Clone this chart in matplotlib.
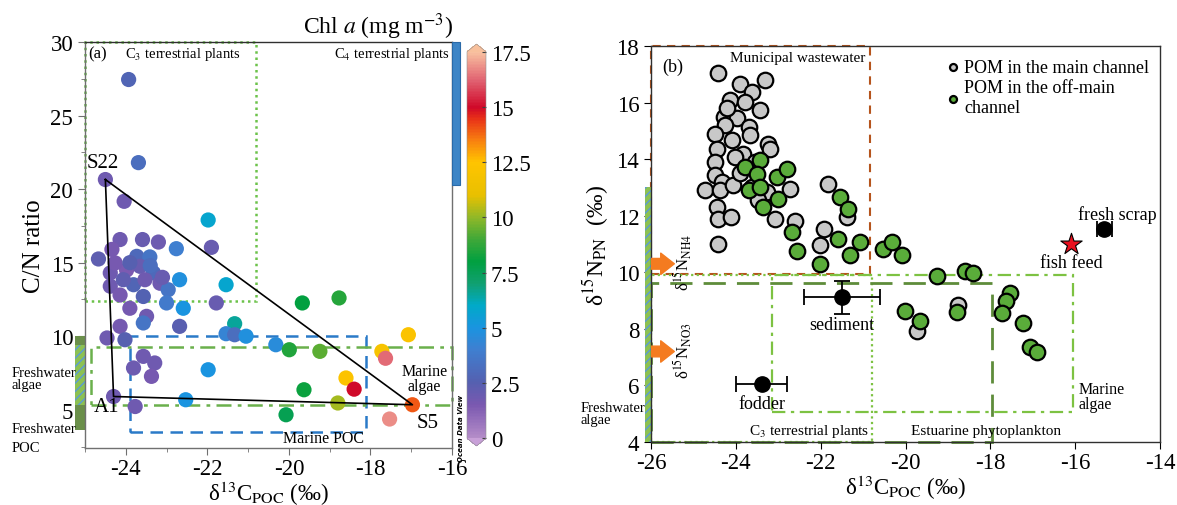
import matplotlib
matplotlib.use('Agg')
import matplotlib.pyplot as plt
from matplotlib.colors import LinearSegmentedColormap
from matplotlib.patches import Rectangle, FancyArrowPatch
from matplotlib.ticker import MultipleLocator

plt.rcParams['font.family'] = ['Liberation Serif', 'DejaVu Serif']
plt.rcParams['mathtext.fontset'] = 'stix'

# ---------------- Panel (a) data ----------------
a_d13c = [-23.93, -23.69, -24.50, -24.04, -21.98, -24.14, -23.59, -23.20, -22.76, -21.90,
          -24.67, -24.34, -23.73, -23.41, -24.38, -23.98, -23.32, -22.68, -21.54, -24.38,
          -23.81, -23.16, -22.96, -24.14, -23.57, -23.00, -22.59, -21.78, -23.90, -23.49,
          -23.57, -24.14, -22.68, -24.46, -24.02, -21.33, -21.54, -21.33, -21.05, -23.57,
          -23.81, -23.29, -23.37, -21.98, -24.30, -23.77, -22.53, -24.26, -23.65, -24.06,
          -23.53, -23.90, -23.40, -23.10, -20.32, -19.67, -18.77, -19.99, -19.24, -19.63,
          -18.60, -18.40, -18.80, -20.07, -17.07, -17.72, -17.63, -16.97, -17.53]
a_cn = [27.45, 21.80, 20.65, 19.17, 17.90, 16.57, 16.57, 16.40, 15.95, 16.04,
        15.25, 15.90, 15.43, 15.39, 14.30, 14.50, 14.30, 13.84, 13.50, 13.40,
        13.50, 13.60, 13.16, 12.80, 12.70, 12.26, 11.90, 12.26, 11.90, 11.35,
        10.90, 10.67, 10.67, 9.88, 9.76, 10.85, 10.17, 10.10, 10.00, 8.63,
        7.84, 8.18, 7.27, 7.72, 5.90, 5.22, 5.68, 14.98, 14.75, 13.84,
        13.84, 15.00, 14.80, 14.00, 9.42, 12.26, 12.60, 9.08, 8.97, 6.36,
        7.16, 6.40, 5.46, 4.66, 10.10, 8.97, 8.50, 5.34, 4.37]
a_chl = [2.8, 3.2, 1.8, 1.8, 5.8, 1.8, 2.0, 1.9, 4.0, 2.0,
         2.3, 1.6, 3.0, 3.5, 1.8, 1.5, 3.0, 4.8, 5.8, 1.8,
         2.8, 1.8, 3.5, 1.6, 2.6, 3.8, 5.0, 2.0, 1.7, 1.8,
         3.5, 1.7, 2.4, 1.8, 2.5, 6.5, 4.3, 3.2, 4.8, 1.8,
         1.9, 1.8, 1.6, 5.0, 1.8, 1.8, 5.0, 1.6, 2.0, 2.2,
         1.8, 2.5, 3.2, 2.0, 4.6, 8.0, 8.6, 8.5, 9.3, 8.2,
         12.3, 15.0, 10.2, 7.6, 12.2, 12.0, 16.3, 14.0, 16.8]
tri_names = ['S22', 'A1', 'S5']
tri_d13c = [-24.50, -24.30, -16.97]
tri_cn = [20.65, 5.90, 5.34]
chl_ticks = [0, 2.5, 5, 7.5, 10, 12.5, 15, 17.5]
chl_ticklabels = ['0', '2.5', '5', '7.5', '10', '12.5', '15', '17.5']

# source ranges in panel (a): (x0, x1, y0, y1)
a_c3_box = (-25.0, -20.8, 12.4, 30.0)
a_marine_poc_box = (-23.9, -18.1, 3.5, 10.0)
a_marine_algae_box = (-24.85, -16.0, 5.35, 9.3)
a_c4_bar = (-16.0, -15.8, 20.3, 30.0)
a_fw_bar = (-25.25, -25.0, 3.6, 10.0)
a_fw_algae_inner = (-25.25, -25.0, 5.3, 9.4)

# ---------------- Panel (b) data ----------------
main_d13c = [-24.41, -23.90, -23.31, -23.62, -24.14, -23.78, -23.43, -24.29, -23.98, -24.25,
             -23.70, -24.49, -24.10, -23.67, -23.23, -23.19, -24.45, -23.82, -24.49, -24.02,
             -23.55, -24.49, -24.33, -24.73, -24.37, -24.06, -23.62, -23.27, -22.72, -24.45,
             -24.41, -24.11, -23.08, -22.60, -24.41, -21.82, -21.93, -22.01, -21.38, -23.47,
             -19.72, -18.77, -23.90, -24.20]
main_d15n = [17.03, 16.67, 16.81, 16.38, 16.08, 16.02, 15.73, 15.49, 15.47, 15.20,
             15.14, 14.90, 14.67, 14.84, 14.55, 14.37, 14.37, 14.19, 13.90, 14.08,
             13.90, 13.43, 13.19, 12.90, 12.90, 13.07, 13.02, 12.84, 12.96, 12.30,
             11.90, 11.95, 11.90, 11.83, 11.00, 13.13, 11.54, 10.95, 11.95, 12.54,
             7.94, 8.86, 13.50, 15.80]
off_d13c = [-23.78, -23.43, -23.51, -23.70, -23.43, -23.35, -23.00, -23.04, -22.80, -22.68,
            -22.56, -22.01, -21.54, -21.35, -21.58, -21.31, -21.07, -20.54, -20.32, -20.09,
            -19.25, -18.59, -18.40, -17.53, -17.63, -17.73, -17.22, -17.06, -16.90, -20.01,
            -19.66, -18.79]
off_d15n = [13.72, 13.96, 13.49, 12.90, 13.02, 12.30, 12.60, 13.37, 13.66, 11.42,
            10.77, 10.30, 12.66, 12.25, 11.19, 10.60, 11.07, 10.83, 11.07, 10.60,
            9.87, 10.04, 9.98, 9.26, 8.97, 8.56, 8.20, 7.35, 7.17, 8.63,
            8.27, 8.61]
end_names = ['sediment', 'fodder', 'fresh scrap']
end_d13c = [-21.49, -23.39, -15.31]
end_d15n = [9.12, 6.05, 11.54]
end_xerr = [0.90, 0.60, 0.18]
end_yerr = [0.58, 0.0, 0.0]
fishfeed_d13c = [-16.10]
fishfeed_d15n = [11.01]
nh4_arrow_y = 10.3
no3_arrow_y = 7.2

b_municipal_box = (-26.0, -20.83, 9.95, 18.0)
b_c3_box = (-26.0, -20.8, 4.0, 9.9)
b_marine_algae_box = (-23.15, -16.05, 5.05, 9.9)
b_estuarine_box = (-26.0, -17.97, 4.0, 9.62)
b_fw_bar = (-26.14, -26.0, 4.0, 13.0)

# ---------------- colormap ----------------
cm_vals = [0, 1.5, 2.5, 4.0, 5.0, 6.0, 7.0, 8.0, 9.0, 10.0, 11.0, 12.5, 13.5, 14.5, 15.0, 16.2, 17.5]
cm_cols = ['#b48cc8', '#7a58b0', '#5560b0', '#3f7fd0', '#1a94e0', '#00aac8', '#10a070', '#00a040',
           '#40a838', '#90b828', '#e8c000', '#ffc400', '#f88010', '#e83018', '#d00828', '#e06070',
           '#f8c0a0']
cmap = LinearSegmentedColormap.from_list('odv', [(v / 17.5, c) for v, c in zip(cm_vals, cm_cols)])
cmap.set_under('#c8a0d8')
cmap.set_over('#f8c09c')

W, H = 1177, 506
fig = plt.figure(figsize=(W / 100, H / 100), dpi=100)

def fr(x0, y0, x1, y1):
    return [x0 / W, 1 - y1 / H, (x1 - x0) / W, (y1 - y0) / H]

TICK_FS = 16.5

# ================= Panel (a) =================
ax = fig.add_axes(fr(85, 43, 452, 449))
ax.set_xlim(-25, -16)
ax.set_ylim(2.4, 30)
for s in ax.spines.values():
    s.set_color('#707070')
    s.set_linewidth(1.0)
ax.spines['top'].set_color('#303030')
ax.xaxis.set_minor_locator(MultipleLocator(1))
ax.yaxis.set_minor_locator(MultipleLocator(2.5))
ax.set_xticks([-24, -22, -20, -18, -16])
ax.set_xticklabels(['-24', '-22', '-20', '-18', '-16'])
ax.set_yticks([5, 10, 15, 20, 25, 30])
ax.tick_params(which='both', direction='out', colors='#707070', labelcolor='black', labelsize=TICK_FS)
ax.tick_params(which='major', length=5)
ax.tick_params(which='minor', length=3)
ax.tick_params(axis='x', pad=2)
ax.set_xlabel(r'δ$^{13}$C$_{\mathrm{POC}}$ (‰)', fontsize=16.5, labelpad=0)
ax.set_ylabel('C/N ratio', fontsize=18, labelpad=4)

def box(axx, b, color, ls, lw, zorder=1):
    x0, x1, y0, y1 = b
    r = Rectangle((x0, y0), x1 - x0, y1 - y0, fill=False, edgecolor=color, linestyle=ls,
                  linewidth=lw, zorder=zorder, clip_on=False)
    axx.add_patch(r)

box(ax, a_c3_box, '#6cc24a', (0, (1, 1.5)), 1.8)
box(ax, a_marine_poc_box, '#2a7ac8', (0, (5, 3)), 1.8)
box(ax, a_marine_algae_box, '#6ab04c', (0, (6, 2.5, 1.5, 2.5)), 1.8)

x0, x1, y0, y1 = a_c4_bar
ax.add_patch(Rectangle((x0, y0), x1 - x0, y1 - y0, facecolor='#3d85c6', edgecolor='#2a6aa8',
                       lw=0.8, clip_on=False, zorder=5))
x0, x1, y0, y1 = a_fw_bar
ax.add_patch(Rectangle((x0, y0), x1 - x0, y1 - y0, facecolor='#6a8f4a', edgecolor='none',
                       clip_on=False, zorder=2))
x0, x1, y0, y1 = a_fw_algae_inner
ax.add_patch(Rectangle((x0, y0), x1 - x0, y1 - y0, facecolor='#8cc152', edgecolor='#5b9bd5',
                       hatch='////', lw=0, clip_on=False, zorder=2))

sc = ax.scatter(a_d13c, a_cn, c=a_chl, cmap=cmap, vmin=0, vmax=17.5, s=120,
                edgecolors='none', zorder=3)
# mixing triangle
ax.plot(tri_d13c + [tri_d13c[0]], tri_cn + [tri_cn[0]], color='black', lw=1.2, zorder=4)

ax.text(-24.92, 29.2, '(a)', fontsize=12, va='center', ha='left')
ax.text(-24.02, 29.2, r'C$_3$ terrestrial plants', fontsize=10.5, va='center', ha='left')
ax.text(-16.05, 29.2, r'C$_4$ terrestrial plants', fontsize=10.5, va='center', ha='right', zorder=6)
ax.text(-24.97, 21.84, tri_names[0], fontsize=15, va='center', ha='left')
ax.text(-24.78, 5.2, tri_names[1], fontsize=15, va='center', ha='left')
ax.text(-16.86, 4.1, tri_names[2], fontsize=15, va='center', ha='left')
ax.text(-16.67, 7.1, 'Marine\nalgae', fontsize=11.5, va='center', ha='center', linespacing=0.9)
ax.text(-19.14, 3.1, 'Marine POC', fontsize=11.5, va='center', ha='center')
ax.text(-26.8, 7.1, 'Freshwater\nalgae', fontsize=10.5, va='center', ha='left', linespacing=0.9,
        clip_on=False, zorder=7)
ax.text(-26.8, 3.1, 'Freshwater\n\nPOC', fontsize=10.5, va='center', ha='left', linespacing=0.65,
        clip_on=False, zorder=7)

# colorbar
cax = fig.add_axes(fr(467, 45, 486, 447))
cb = fig.colorbar(sc, cax=cax, extend='both', extendfrac=0.02, ticks=chl_ticks)
cb.ax.set_yticklabels(chl_ticklabels)
cb.ax.tick_params(labelsize=TICK_FS, length=3, direction='in', color='#404040', width=0.8)
cb.outline.set_linewidth(0.4)
cb.outline.set_edgecolor('#909090')
fig.text(378 / W, 1 - 27 / H, r'Chl $a$ (mg m$^{-3}$)', fontsize=17, ha='center', va='center')
fig.text(461 / W, 1 - 428 / H, 'Ocean Data View', fontsize=5, rotation=90, ha='center', va='center',
         family='DejaVu Sans', fontweight='bold', style='italic')

# ================= Panel (b) =================
bx = fig.add_axes(fr(651, 47, 1160, 443))
bx.set_xlim(-26, -14)
bx.set_ylim(4, 18)
bx.set_xticks([-26, -24, -22, -20, -18, -16, -14])
bx.set_xticklabels(['-26', '-24', '-22', '-20', '-18', '-16', '-14'])
bx.set_yticks([4, 6, 8, 10, 12, 14, 16, 18])
bx.tick_params(direction='out', length=5, labelsize=TICK_FS)
bx.tick_params(axis='x', pad=2)
for s in bx.spines.values():
    s.set_linewidth(1.0)
    s.set_color('#303030')
bx.set_xlabel(r'δ$^{13}$C$_{\mathrm{POC}}$ (‰)', fontsize=16.5, labelpad=0)
bx.set_ylabel(r'δ$^{15}$N$_{\mathrm{PN}}$  (‰)', fontsize=17, labelpad=4)

box(bx, b_municipal_box, '#b5541c', (0, (4, 3)), 1.5)
box(bx, b_c3_box, '#7dc242', (0, (1, 1.5)), 1.6)
box(bx, b_marine_algae_box, '#7dc242', (0, (6, 2.5, 1.5, 2.5)), 1.6)
box(bx, b_estuarine_box, '#5e8c3a', (0, (8, 4)), 2.0)
x0, x1, y0, y1 = b_fw_bar
bx.add_patch(Rectangle((x0, y0), x1 - x0, y1 - y0, facecolor='#8cc152', edgecolor='#5b9bd5',
                       hatch='////', lw=0, clip_on=False, zorder=2))

for ya in (nh4_arrow_y, no3_arrow_y):
    arr = FancyArrowPatch((-26.0, ya), (-25.45, ya), arrowstyle='simple,head_length=0.7,head_width=1.1,tail_width=0.55',
                          mutation_scale=14, color='#f47b20', shrinkA=0, shrinkB=0, zorder=6)
    bx.add_patch(arr)
bx.text(-25.25, 10.4, r'δ$^{15}$N$_{\mathrm{NH4}}$', rotation=90, fontsize=12, ha='center', va='center')
bx.text(-25.25, 7.25, r'δ$^{15}$N$_{\mathrm{NO3}}$', rotation=90, fontsize=12, ha='center', va='center')

bx.scatter(main_d13c, main_d15n, s=125, facecolor='#c8c8c8', edgecolor='black', linewidth=1.6,
           zorder=3, label='POM in the main channel')
bx.scatter(off_d13c, off_d15n, s=125, facecolor='#5aac3a', edgecolor='black', linewidth=1.6,
           zorder=3.5, label='POM in the off-main\nchannel')
bx.errorbar(end_d13c, end_d15n, xerr=end_xerr, yerr=end_yerr, fmt='o', color='black', ms=11,
            capsize=6, elinewidth=1.3, capthick=1.3, zorder=4)
bx.scatter(fishfeed_d13c, fishfeed_d15n, marker='*', s=260, facecolor='#e8101e', edgecolor='black',
           linewidth=0.8, zorder=5)

bx.text(-25.74, 17.29, '(b)', fontsize=13, ha='left', va='center')
bx.text(-20.95, 17.6, 'Municipal wastewater', fontsize=11, ha='right', va='center')
bx.text(-20.85, 4.39, r'C$_3$ terrestrial plants', fontsize=11, ha='right', va='center')
bx.text(-18.1, 4.39, 'Estuarine phytoplankton', fontsize=11, ha='center', va='center')
bx.text(-15.92, 5.6, 'Marine\nalgae', fontsize=11.5, ha='left', va='center', linespacing=0.95)
bx.text(-27.67, 5.0, 'Freshwater\nalgae', fontsize=10.5, ha='left', va='center', linespacing=0.85,
        clip_on=False, zorder=7)
bx.text(end_d13c[2] + 0.3, end_d15n[2] + 0.52, end_names[2], fontsize=13, ha='center', va='center')
bx.text(fishfeed_d13c[0], fishfeed_d15n[0] - 0.65, 'fish feed', fontsize=13, ha='center', va='center')
bx.text(end_d13c[0], end_d15n[0] - 0.95, end_names[0], fontsize=13, ha='center', va='center')
bx.text(end_d13c[1], end_d15n[1] - 0.7, end_names[1], fontsize=13, ha='center', va='center')

leg = bx.legend(loc='upper left', bbox_to_anchor=(0.555, 0.995), frameon=False, fontsize=13,
                markerscale=0.45, handletextpad=0.1, borderaxespad=0.2, labelspacing=0.2,
                handlelength=1.0)

fig.savefig('out.png', dpi=100)
